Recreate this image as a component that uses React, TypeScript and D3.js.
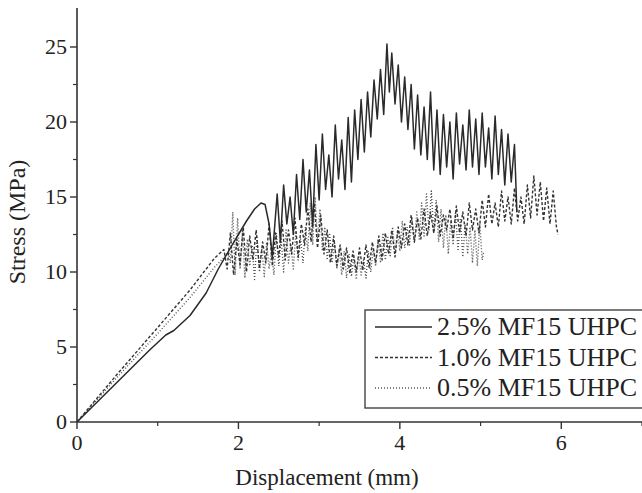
import React from "react";
import * as d3 from "d3";

const W = 642;
const H = 493;

const xTicks = [0, 2, 4, 6];
const xMinor = [1, 3, 5, 7];
const yTicks = [0, 5, 10, 15, 20, 25];
const yMinor = [2.5, 7.5, 12.5, 17.5, 22.5];

const seriesNames = ["2.5% MF15 UHPC", "1.0% MF15 UHPC", "0.5% MF15 UHPC"];

const mf25: [number, number][] = [
  [0, 0], [0.3, 1.6], [0.6, 3.2], [0.9, 4.8], [1.1, 5.8], [1.2, 6.1], [1.4, 7.1], [1.6, 8.6],
  [1.75, 10.2], [1.9, 11.6], [2.0, 12.5], [2.1, 13.4], [2.2, 14.2], [2.28, 14.6], [2.33, 14.5],
  [2.38, 13.2], [2.42, 11.0],
  [2.48, 15.2], [2.52, 12.0], [2.56, 15.8], [2.60, 13.2], [2.64, 15.0], [2.68, 12.5], [2.72, 16.5],
  [2.76, 13.5], [2.80, 17.5], [2.84, 14.0], [2.88, 16.8], [2.92, 13.0], [2.96, 18.5], [3.00, 14.8],
  [3.04, 19.2], [3.08, 15.5], [3.12, 17.8], [3.16, 15.0], [3.20, 19.8], [3.24, 16.2], [3.28, 18.8],
  [3.32, 15.5], [3.36, 20.3], [3.40, 16.0], [3.44, 20.8], [3.48, 17.5], [3.52, 21.5], [3.56, 18.0],
  [3.60, 22.0], [3.64, 19.0], [3.68, 22.8], [3.72, 20.2], [3.76, 23.5], [3.80, 20.5], [3.84, 25.2],
  [3.87, 22.0], [3.90, 24.6], [3.94, 21.2], [3.98, 23.8], [4.02, 20.0], [4.06, 23.0], [4.10, 19.5],
  [4.14, 22.5], [4.18, 18.2], [4.22, 21.8], [4.26, 17.8], [4.30, 21.0], [4.34, 17.5], [4.38, 22.0],
  [4.42, 16.8], [4.46, 20.8], [4.50, 16.5], [4.54, 20.5], [4.58, 17.0], [4.62, 20.0], [4.66, 16.2],
  [4.70, 20.6], [4.74, 17.2], [4.78, 19.8], [4.82, 16.8], [4.86, 20.8], [4.90, 17.0], [4.94, 20.2],
  [4.98, 16.5], [5.02, 20.6], [5.06, 17.0], [5.10, 19.6], [5.14, 16.2], [5.18, 20.4], [5.22, 16.5],
  [5.26, 19.5], [5.30, 15.8], [5.34, 19.2], [5.38, 16.0], [5.42, 18.5], [5.45, 14.0],
];

const mf10: [number, number][] = [
  [0, 0], [0.5, 3.2], [1.0, 6.3], [1.4, 8.8], [1.7, 10.9], [1.82, 11.5],
  [1.86, 10.2], [1.90, 12.6], [1.94, 9.8], [1.98, 12.2], [2.02, 10.5], [2.06, 13.0], [2.10, 10.0],
  [2.14, 12.4], [2.18, 10.8], [2.22, 12.8], [2.26, 10.2], [2.30, 12.0], [2.34, 10.6], [2.38, 13.2],
  [2.42, 10.4], [2.46, 12.6], [2.50, 11.0], [2.54, 13.4], [2.58, 10.8], [2.62, 12.8], [2.66, 11.2],
  [2.70, 13.6], [2.74, 11.0], [2.78, 13.2], [2.82, 11.8], [2.86, 14.2], [2.90, 12.0], [2.94, 14.6],
  [2.98, 11.6], [3.02, 13.8], [3.06, 11.2], [3.10, 12.8], [3.14, 10.6], [3.18, 12.4], [3.22, 10.4],
  [3.26, 11.8], [3.30, 10.2], [3.34, 11.6], [3.38, 9.9], [3.42, 11.4], [3.46, 10.0], [3.50, 11.6],
  [3.54, 10.1], [3.58, 11.8], [3.62, 10.3], [3.66, 12.0], [3.70, 10.6], [3.74, 12.4], [3.78, 10.8],
  [3.82, 12.6], [3.86, 11.2], [3.90, 12.8], [3.94, 11.0], [3.98, 13.0], [4.02, 11.6], [4.06, 13.2],
  [4.10, 11.8], [4.14, 13.8], [4.18, 12.0], [4.22, 13.6], [4.26, 12.2], [4.30, 14.2], [4.34, 12.4],
  [4.38, 14.0], [4.42, 12.6], [4.46, 14.4], [4.50, 12.4], [4.54, 13.8], [4.58, 12.8], [4.62, 14.2],
  [4.66, 12.2], [4.70, 14.4], [4.74, 12.6], [4.78, 14.0], [4.82, 12.4], [4.86, 14.6], [4.90, 12.8],
  [4.94, 14.2], [4.98, 12.6], [5.02, 14.8], [5.06, 13.0], [5.10, 15.2], [5.14, 13.2], [5.18, 14.6],
  [5.22, 13.0], [5.26, 15.4], [5.30, 13.4], [5.34, 15.0], [5.38, 13.2], [5.42, 15.6], [5.46, 13.4],
  [5.50, 15.0], [5.54, 13.2], [5.58, 15.8], [5.62, 13.6], [5.66, 16.4], [5.70, 13.8], [5.74, 16.0],
  [5.78, 13.4], [5.82, 15.6], [5.86, 13.2], [5.90, 15.4], [5.94, 13.0], [5.96, 12.5],
];

const mf05: [number, number][] = [
  [0, 0], [0.5, 3.0], [1.0, 5.9], [1.4, 8.3], [1.7, 10.3], [1.88, 11.3],
  [1.90, 10.6], [1.93, 14.0], [1.96, 9.8], [1.99, 13.6], [2.02, 10.2], [2.05, 12.8], [2.08, 9.6],
  [2.11, 12.2], [2.14, 10.4], [2.17, 11.8], [2.20, 9.5], [2.23, 12.4], [2.26, 10.0], [2.29, 11.6],
  [2.32, 9.7], [2.35, 12.0], [2.38, 10.2], [2.41, 11.4], [2.44, 9.8], [2.47, 12.6], [2.50, 10.4],
  [2.53, 12.2], [2.56, 10.0], [2.59, 12.8], [2.62, 10.6], [2.65, 11.8], [2.68, 10.2], [2.71, 12.6],
  [2.74, 10.8], [2.77, 12.2], [2.80, 10.6], [2.83, 13.0], [2.86, 11.4], [2.89, 14.6], [2.92, 11.8],
  [2.95, 15.0], [2.98, 12.0], [3.01, 14.2], [3.04, 11.4], [3.07, 13.0], [3.10, 10.8], [3.13, 12.6],
  [3.16, 10.6], [3.19, 12.0], [3.22, 10.2], [3.25, 11.6], [3.28, 9.8], [3.31, 11.4], [3.34, 9.6],
  [3.37, 11.2], [3.40, 9.7], [3.43, 11.0], [3.46, 9.5], [3.49, 11.2], [3.52, 9.8], [3.55, 10.8],
  [3.58, 9.6], [3.61, 11.4], [3.64, 10.0], [3.67, 11.6], [3.70, 10.4], [3.73, 12.2], [3.76, 10.6],
  [3.79, 12.6], [3.82, 10.8], [3.85, 12.4], [3.88, 11.0], [3.91, 13.0], [3.94, 11.2], [3.97, 12.8],
  [4.00, 11.4], [4.03, 13.4], [4.06, 11.6], [4.09, 13.0], [4.12, 11.8], [4.15, 13.6], [4.18, 12.0],
  [4.21, 14.0], [4.24, 12.2], [4.27, 14.6], [4.30, 12.4], [4.33, 15.2], [4.36, 12.8], [4.39, 15.4],
  [4.42, 12.6], [4.45, 14.8], [4.48, 12.0], [4.51, 14.2], [4.54, 11.6], [4.57, 13.8], [4.60, 11.2],
  [4.63, 13.4], [4.66, 11.8], [4.69, 14.0], [4.72, 11.4], [4.75, 13.6], [4.78, 11.0], [4.81, 13.2],
  [4.84, 11.2], [4.87, 13.0], [4.90, 10.6], [4.93, 12.8], [4.96, 10.4], [4.99, 13.2], [5.02, 10.8],
  [5.04, 11.4],
];

const styles = [
  { dash: "none", color: "#2a2a2a", width: 1.5 },
  { dash: "3,2", color: "#333", width: 1.4 },
  { dash: "1,2", color: "#555", width: 1.4 },
];

export default function App() {
  const x = d3.scaleLinear().domain([0, 7]).range([77, 642]);
  const y = d3.scaleLinear().domain([0, 27.6]).range([422, 8]);
  const line = d3
    .line<[number, number]>()
    .x((d) => x(d[0]))
    .y((d) => y(d[1]));
  const data = [mf25, mf10, mf05];
  const font = "'Liberation Serif', 'Times New Roman', serif";
  const axisColor = "#333";

  return (
    <svg
      width={W}
      height={H}
      style={{ position: "absolute", left: 0, top: 0, background: "#fff" }}
      fontFamily={font}
    >
      <rect x={0} y={0} width={W} height={H} fill="#fff" />
      {[2, 1, 0].map((i) => (
        <path
          key={i}
          d={line(data[i]) || ""}
          fill="none"
          stroke={styles[i].color}
          strokeWidth={styles[i].width}
          strokeDasharray={styles[i].dash}
          strokeLinejoin="round"
        />
      ))}
      <line x1={x(0)} x2={x(0)} y1={y(27.6)} y2={y(0)} stroke={axisColor} strokeWidth={1.6} />
      <line x1={x(0)} x2={W} y1={y(0)} y2={y(0)} stroke={axisColor} strokeWidth={1.6} />
      {yTicks.map((t) => (
        <g key={"y" + t}>
          <line x1={x(0) - 7} x2={x(0)} y1={y(t)} y2={y(t)} stroke={axisColor} strokeWidth={1.4} />
          <text x={x(0) - 10} y={y(t) + 7} textAnchor="end" fontSize={22} fill="#222">
            {t}
          </text>
        </g>
      ))}
      {yMinor.map((t) => (
        <line key={"ym" + t} x1={x(0) - 4} x2={x(0)} y1={y(t)} y2={y(t)} stroke={axisColor} strokeWidth={1.2} />
      ))}
      {xTicks.map((t) => (
        <g key={"x" + t}>
          <line x1={x(t)} x2={x(t)} y1={y(0)} y2={y(0) + 7} stroke={axisColor} strokeWidth={1.4} />
          <text x={x(t)} y={y(0) + 28} textAnchor="middle" fontSize={22} fill="#222">
            {t}
          </text>
        </g>
      ))}
      {xMinor.map((t) => (
        <line key={"xm" + t} x1={x(t)} x2={x(t)} y1={y(0)} y2={y(0) + 4} stroke={axisColor} strokeWidth={1.2} />
      ))}
      <text x={327} y={485} textAnchor="middle" fontSize={23} fill="#222">
        Displacement (mm)
      </text>
      <text
        transform={`translate(25, 222) rotate(-90)`}
        textAnchor="middle"
        fontSize={24}
        fill="#222"
      >
        Stress (MPa)
      </text>
      <rect x={365} y={310} width={300} height={98} fill="#fff" stroke="#444" strokeWidth={1.4} />
      {seriesNames.map((name, i) => (
        <g key={name}>
          <line
            x1={375}
            x2={432}
            y1={327 + i * 30.5}
            y2={327 + i * 30.5}
            stroke={styles[i].color}
            strokeWidth={1.3}
            strokeDasharray={styles[i].dash}
          />
          <text x={437} y={335 + i * 30.5} fontSize={26} fill="#222">
            {name}
          </text>
        </g>
      ))}
    </svg>
  );
}
